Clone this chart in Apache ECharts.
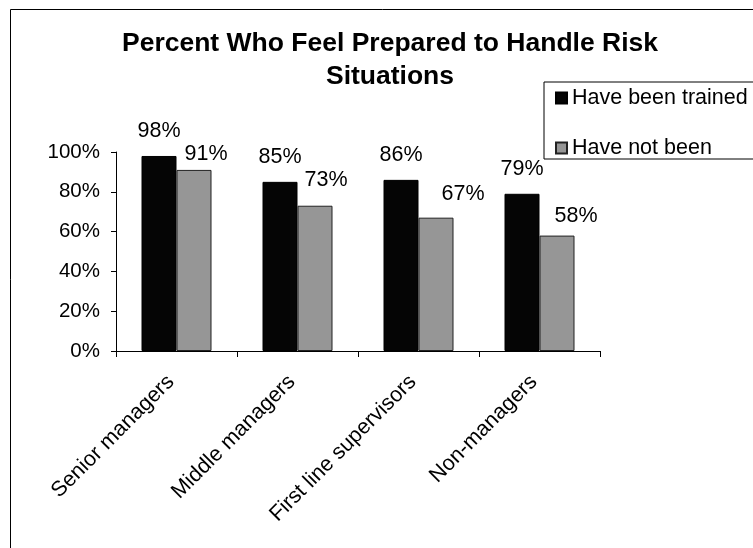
<!DOCTYPE html>
<html>
<head>
<meta charset="utf-8">
<script src="https://cdn.jsdelivr.net/npm/echarts@6/dist/echarts.min.js"></script>
<style>
  html, body { margin: 0; padding: 0; background: #fff; }
  #chart { width: 753px; height: 548px; }
</style>
</head>
<body>
<div id="chart"></div>
<script>
const categories = ['Senior managers', 'Middle managers', 'First line supervisors', 'Non-managers'];
const trained = [98, 85, 86, 79];
const notTrained = [91, 73, 67, 58];
const yTicks = [0, 20, 40, 60, 80, 100];

// where the grey labels sit relative to their bar top (as placed in the original)
const greyLabelShift = [[12, -5], [11, -15], [27, -13], [19, -9]];

const font = "'Liberation Sans', Arial, sans-serif";
const chart = echarts.init(document.getElementById('chart'), null, { renderer: 'canvas' });

chart.setOption({
  animation: false,
  backgroundColor: '#fff',
  textStyle: { fontFamily: font, color: '#000' },
  title: {
    text: 'Percent Who Feel Prepared to Handle Risk\nSituations',
    left: 390, top: 27, padding: 0, textAlign: 'center',
    textStyle: { fontFamily: font, fontSize: 26.5, fontWeight: 'bold', lineHeight: 33, color: '#000' }
  },
  legend: {
    orient: 'vertical', left: 544, top: 82,
    padding: [5, 20, 0, 11], itemGap: 28,
    itemWidth: 11, itemHeight: 11,
    borderColor: '#000', borderWidth: 1,
    icon: 'rect',
    textStyle: { fontFamily: font, fontSize: 21.5, color: '#000' },
    data: ['Have been trained', 'Have not been']
  },
  grid: { left: 116, right: 153, top: 152, bottom: 197, containLabel: false },
  xAxis: {
    type: 'category', data: categories,
    axisLine: { lineStyle: { color: '#000', width: 1 } },
    axisTick: { show: true, length: 6, lineStyle: { color: '#000' } },
    axisLabel: { rotate: 45, margin: 22, padding: [0, 8, 0, 0], fontSize: 21.5, color: '#000', fontFamily: font, interval: 0 }
  },
  yAxis: {
    type: 'value', min: yTicks[0], max: yTicks[yTicks.length - 1], interval: 20,
    axisLine: { show: true, lineStyle: { color: '#000', width: 1 } },
    axisTick: { show: true, length: 5, lineStyle: { color: '#000' } },
    splitLine: { show: false },
    axisLabel: { margin: 16, fontSize: 20.5, color: '#000', fontFamily: font, formatter: v => v + '%' }
  },
  series: [
    {
      name: 'Have been trained', type: 'bar', data: trained,
      barWidth: 35, barGap: '0%',
      itemStyle: { color: '#050505', borderColor: '#000', borderWidth: 1 },
      label: { show: true, position: 'top', distance: 14, formatter: '{c}%', fontSize: 21.5, color: '#000', fontFamily: font }
    },
    {
      name: 'Have not been', type: 'bar',
      data: notTrained.map((v, i) => ({ value: v, label: { offset: greyLabelShift[i] } })),
      barWidth: 35,
      itemStyle: { color: '#969696', borderColor: '#222', borderWidth: 1 },
      label: { show: true, position: 'top', distance: 0, formatter: '{c}%', fontSize: 21.5, color: '#000', fontFamily: font }
    }
  ],
  graphic: [
    { type: 'rect', shape: { x: 10.5, y: 9.5, width: 800, height: 600 }, style: { fill: 'none', stroke: '#000', lineWidth: 1 }, silent: true, z: -1 }
  ]
});
</script>
</body>
</html>
